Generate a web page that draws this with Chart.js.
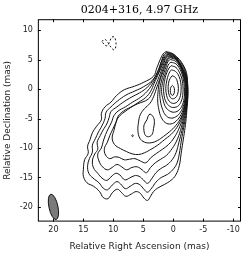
<!DOCTYPE html>
<html>
<head>
<meta charset="utf-8">
<script src="https://cdn.jsdelivr.net/npm/chart.js@4.4.0/dist/chart.umd.min.js"></script>
<style>
  html, body { margin: 0; padding: 0; background: #fff; }
  #wrap { width: 250px; height: 255px; }
</style>
</head>
<body>
<div id="wrap"><canvas id="map"></canvas></div>
<script>
// tick labels
const xTicks = [20, 15, 10, 5, 0, -5, -10];
const yTicks = [10, 5, 0, -5, -10, -15, -20];

// contours, [RA offset, Dec offset] in mas, outermost first
const jet1 = [[1.2,6.4],[0.2,6.1],[-0.8,5.3],[-1.6,4.2],[-2.2,2.8],[-2.4,1.0],[-2.45,-1.0],[-2.3,-3.0],[-2.15,-5.0],[-1.9,-7.0],[-1.6,-9.0],[-1.3,-11.0],[-1.0,-13.0],[-0.4,-14.6],[0.4,-15.5],[1.5,-16.2],[2.6,-16.8],[3.3,-17.4],[3.8,-18.2],[4.3,-18.9],[4.9,-18.5],[5.5,-17.7],[6.2,-17.4],[7.0,-17.8],[7.9,-18.2],[8.7,-17.5],[9.3,-17.0],[10.1,-17.5],[10.9,-18.6],[11.7,-18.4],[12.3,-17.4],[13.3,-16.5],[14.4,-15.9],[15.0,-14.8],[15.0,-13.6],[14.8,-12.0],[14.2,-10.9],[14.3,-9.7],[13.9,-8.6],[13.5,-7.4],[12.8,-6.3],[12.0,-5.2],[12.0,-4.1],[11.4,-3.0],[10.4,-2.2],[9.5,-1.1],[8.2,-0.1],[6.5,0.5],[4.9,1.2],[3.3,2.2],[2.75,3.6],[2.2,5.0],[1.7,6.0],[1.2,6.4]];
const jet2 = [[1.1,6.25],[0.1,5.95],[-0.8,5.1],[-1.6,4.0],[-2.1,2.7],[-2.35,1.0],[-2.4,-1.0],[-2.25,-3.0],[-2.0,-5.0],[-1.65,-7.0],[-1.3,-9.0],[-1.0,-11.0],[-0.6,-12.6],[0.1,-13.7],[1.0,-14.5],[2.0,-15.0],[2.9,-15.8],[3.6,-16.8],[4.3,-17.5],[4.9,-17.0],[5.5,-16.3],[6.3,-16.0],[7.2,-16.5],[8.0,-16.9],[8.8,-16.1],[9.4,-15.7],[10.2,-16.3],[11.0,-17.1],[11.7,-16.8],[12.4,-15.9],[13.4,-15.1],[14.1,-14.3],[14.3,-13.0],[14.0,-11.8],[13.5,-10.7],[13.5,-9.5],[13.0,-8.4],[12.5,-7.3],[11.9,-6.2],[11.4,-5.0],[11.2,-3.9],[10.4,-3.0],[9.3,-2.0],[7.9,-1.0],[6.4,-0.3],[5.0,0.4],[3.5,1.5],[2.5,3.2],[2.0,4.7],[1.6,5.8],[1.1,6.25]];
const jet3 = [[1.0,6.1],[0.0,5.8],[-0.8,4.9],[-1.55,3.8],[-2.05,2.6],[-2.3,1.0],[-2.35,-1.0],[-2.2,-3.0],[-1.85,-5.0],[-1.45,-7.0],[-0.95,-9.0],[-0.45,-10.8],[0.2,-12.0],[1.1,-12.9],[2.1,-13.5],[2.9,-14.2],[3.6,-15.2],[4.3,-16.0],[5.0,-15.4],[5.7,-14.8],[6.5,-14.7],[7.3,-15.1],[8.1,-15.4],[8.9,-14.6],[9.6,-14.3],[10.4,-14.9],[11.1,-15.5],[11.9,-15.1],[12.6,-14.3],[13.3,-13.4],[13.5,-12.2],[13.1,-11.0],[12.6,-10.2],[12.7,-9.0],[12.2,-7.9],[11.7,-6.9],[11.1,-5.9],[10.7,-4.8],[10.4,-3.8],[9.4,-3.0],[8.2,-2.1],[6.9,-1.3],[5.6,-0.6],[4.6,0.1],[3.5,1.3],[2.6,3.0],[2.0,4.6],[1.5,5.6],[1.0,6.1]];
const jet4 = [[0.9,5.95],[-0.1,5.65],[-0.9,4.7],[-1.5,3.6],[-2.0,2.5],[-2.25,1.0],[-2.3,-1.0],[-2.15,-3.0],[-1.7,-5.0],[-1.2,-7.0],[-0.55,-8.8],[0.2,-10.1],[1.1,-11.2],[2.1,-11.9],[3.0,-12.5],[3.8,-13.3],[4.5,-14.2],[5.2,-13.7],[6.0,-13.2],[6.9,-13.3],[7.8,-13.7],[8.6,-13.2],[9.4,-12.8],[10.2,-13.3],[11.0,-13.7],[11.8,-13.2],[12.4,-12.2],[12.6,-11.0],[12.0,-10.0],[11.7,-8.9],[11.3,-7.7],[10.8,-6.6],[10.3,-5.6],[9.9,-4.5],[9.2,-3.7],[8.0,-3.0],[6.8,-2.2],[5.5,-1.4],[4.4,-0.4],[3.6,0.7],[2.6,2.6],[1.9,4.4],[1.4,5.5],[0.9,5.95]];
const jet5 = [[0.8,5.8],[-0.2,5.5],[-0.95,4.6],[-1.5,3.5],[-1.95,2.4],[-2.2,1.0],[-2.25,-1.0],[-2.05,-3.0],[-1.55,-5.0],[-0.9,-6.8],[-0.1,-8.3],[0.8,-9.4],[1.8,-10.2],[2.8,-10.9],[3.7,-11.6],[4.6,-12.5],[5.5,-12.2],[6.4,-11.8],[7.3,-11.9],[8.2,-12.0],[9.0,-11.6],[9.8,-11.5],[10.6,-11.8],[11.3,-11.2],[11.5,-10.1],[11.0,-9.0],[10.6,-7.9],[10.1,-6.8],[9.6,-5.7],[9.1,-4.7],[8.2,-3.9],[7.1,-3.1],[5.9,-2.3],[4.6,-1.4],[3.8,-0.4],[3.2,1.0],[2.4,2.8],[1.7,4.5],[1.3,5.4],[0.8,5.8]];
const jet6 = [[0.7,5.65],[-0.25,5.35],[-1.0,4.45],[-1.5,3.4],[-1.9,2.3],[-2.15,1.0],[-2.2,-1.0],[-1.95,-3.0],[-1.4,-4.9],[-0.6,-6.5],[0.4,-7.7],[1.5,-8.6],[2.6,-9.5],[3.7,-10.2],[4.8,-10.8],[5.8,-11.1],[6.8,-11.0],[7.8,-10.6],[8.8,-10.1],[9.8,-9.4],[10.2,-8.3],[9.9,-7.0],[9.6,-5.8],[9.2,-4.6],[8.3,-3.7],[7.2,-3.1],[6.0,-2.5],[4.2,-1.7],[3.5,-0.6],[2.9,0.8],[2.2,2.6],[1.6,4.3],[1.2,5.3],[0.7,5.65]];
const jet7 = [[0.6,5.5],[-0.3,5.2],[-1.0,4.3],[-1.5,3.3],[-1.85,2.2],[-2.1,1.0],[-2.15,-1.0],[-1.9,-3.0],[-1.3,-4.8],[-0.4,-6.2],[0.6,-7.2],[1.6,-8.0],[2.6,-8.7],[3.7,-9.1],[4.8,-9.0],[5.6,-8.3],[5.9,-7.0],[5.8,-5.6],[5.5,-4.3],[4.8,-3.3],[3.9,-2.4],[3.3,-1.3],[2.85,0.0],[2.3,1.6],[1.85,3.0],[1.4,4.3],[1.0,5.2],[0.6,5.5]];
const core2 = [[0.5,5.35],[-0.4,5.0],[-1.05,4.1],[-1.5,3.1],[-1.8,2.1],[-2.05,1.0],[-2.1,-1.0],[-1.85,-2.8],[-1.3,-4.3],[-0.5,-5.4],[0.4,-5.9],[1.3,-5.7],[2.0,-4.8],[2.4,-3.5],[2.6,-2.0],[2.55,-0.5],[2.3,1.2],[1.7,3.0],[1.25,4.3],[0.9,5.1],[0.5,5.35]];
const core3 = [[0.45,5.05],[-0.45,4.7],[-1.1,3.8],[-1.5,2.9],[-1.75,2.0],[-1.95,1.0],[-2.0,-1.0],[-1.75,-2.6],[-1.2,-3.9],[-0.4,-4.7],[0.5,-4.9],[1.3,-4.4],[1.8,-3.4],[2.15,-2.0],[2.25,-0.5],[2.05,1.1],[1.55,2.8],[1.15,4.0],[0.85,4.8],[0.45,5.05]];
const core4 = [[0.4,4.6],[-0.45,4.3],[-1.05,3.5],[-1.45,2.6],[-1.7,1.6],[-1.85,0.3],[-1.85,-1.2],[-1.55,-2.6],[-1.0,-3.5],[-0.2,-3.9],[0.6,-3.7],[1.3,-3.0],[1.7,-1.8],[1.95,-0.4],[1.8,1.0],[1.4,2.5],[1.0,3.7],[0.75,4.3],[0.4,4.6]];
const core5 = [[0.35,4.0],[-0.45,3.7],[-1.0,2.9],[-1.4,1.9],[-1.6,0.6],[-1.6,-0.8],[-1.35,-2.0],[-0.85,-2.8],[-0.1,-3.1],[0.6,-2.9],[1.2,-2.2],[1.55,-1.0],[1.6,0.3],[1.4,1.7],[1.05,2.9],[0.7,3.6],[0.35,4.0]];
const core6 = [[0.3,3.3],[-0.4,3.0],[-0.95,2.2],[-1.25,1.1],[-1.3,-0.2],[-1.1,-1.4],[-0.6,-2.2],[0.1,-2.4],[0.7,-2.0],[1.1,-1.1],[1.25,0.1],[1.1,1.4],[0.8,2.5],[0.55,3.0],[0.3,3.3]];
const core7 = [[0.2,2.3],[-0.35,2.0],[-0.7,1.2],[-0.85,0.1],[-0.7,-0.9],[-0.3,-1.5],[0.25,-1.6],[0.65,-1.1],[0.85,-0.1],[0.8,1.0],[0.55,1.8],[0.2,2.3]];
const core8 = [[0.15,0.65],[-0.1,0.35],[-0.2,-0.2],[-0.1,-0.8],[0.15,-1.05],[0.4,-0.8],[0.5,-0.2],[0.4,0.35],[0.15,0.65]];
const blob = [[3.9,-4.2],[3.4,-4.6],[3.15,-5.5],[3.3,-6.7],[3.5,-7.6],[4.0,-8.05],[4.6,-7.9],[4.9,-7.0],[4.85,-6.0],[4.4,-5.2],[4.2,-4.6],[3.9,-4.2]];
const knot = [[6.8,-7.75],[6.65,-7.9],[6.8,-8.05],[6.95,-7.9],[6.8,-7.75]];
// negative contour (dashed)
const negative = [[11.9,8.1],[11.5,8.5],[11.1,8.2],[10.7,7.6],[10.3,7.0],[9.9,6.7],[9.6,7.2],[9.6,8.2],[9.9,8.9],[10.3,8.8],[10.6,8.1],[11.0,7.4],[11.4,7.5],[11.9,8.1]];

// restoring beam: centre, half axes (mas) and position angle (deg)
const beamCentre = [20.0, -20.0];
const beamMajor = 2.2;
const beamMinor = 0.75;
const beamPA = 12;

const positive = [jet1, jet2, jet3, jet4, jet5, jet6, jet7, core2, core3, core4, core5, core6, core7, core8, blob, knot];

function toPoints(arr) {
  return arr.map(p => ({ x: p[0], y: p[1] }));
}

var datasets = [];
positive.forEach(function (c) {
  datasets.push({
    data: toPoints(c),
    showLine: true,
    borderColor: '#111',
    borderWidth: 1,
    pointRadius: 0,
    tension: 0.4,
    fill: false
  });
});
datasets.push({
  data: toPoints(negative),
  showLine: true,
  borderColor: '#111',
  borderWidth: 1,
  borderDash: [2, 2],
  pointRadius: 0,
  tension: 0.4,
  fill: false
});

// frame, inward ticks on all four sides, and the beam
const framePlugin = {
  id: 'frame',
  afterDatasetsDraw(chart) {
    const ctx = chart.ctx;
    const a = chart.chartArea;
    const xs = chart.scales.x, ys = chart.scales.y;
    ctx.save();
    // beam
    const bx = xs.getPixelForValue(beamCentre[0]);
    const by = ys.getPixelForValue(beamCentre[1]);
    const ry = Math.abs(ys.getPixelForValue(beamMajor) - ys.getPixelForValue(0));
    const rx = Math.abs(xs.getPixelForValue(beamMinor) - xs.getPixelForValue(0));
    ctx.beginPath();
    ctx.ellipse(bx, by, rx, ry, -beamPA * Math.PI / 180, 0, Math.PI * 2);
    ctx.fillStyle = '#7a7a7a';
    ctx.fill();
    ctx.lineWidth = 1;
    ctx.strokeStyle = '#111';
    ctx.stroke();
    // frame
    ctx.strokeStyle = '#000';
    ctx.lineWidth = 1;
    ctx.strokeRect(a.left + 0.5, a.top + 0.5, a.right - a.left - 1, a.bottom - a.top - 1);
    // ticks
    ctx.beginPath();
    xTicks.forEach(function (v) {
      const px = Math.round(xs.getPixelForValue(v)) + 0.5;
      ctx.moveTo(px, a.bottom); ctx.lineTo(px, a.bottom - 3);
      ctx.moveTo(px, a.top); ctx.lineTo(px, a.top + 3);
    });
    yTicks.forEach(function (v) {
      const py = Math.round(ys.getPixelForValue(v)) + 0.5;
      ctx.moveTo(a.left, py); ctx.lineTo(a.left + 3, py);
      ctx.moveTo(a.right, py); ctx.lineTo(a.right - 3, py);
    });
    ctx.stroke();
    ctx.restore();
  }
};

new Chart(document.getElementById('map'), {
  type: 'scatter',
  data: { datasets: datasets },
  plugins: [framePlugin],
  options: {
    responsive: true,
    maintainAspectRatio: false,
    animation: false,
    layout: { padding: { left: 2, right: 9, top: 0, bottom: 3 } },
    plugins: {
      legend: { display: false },
      tooltip: { enabled: false },
      title: {
        display: true,
        fullSize: false,
        text: '0204+316, 4.97 GHz',
        color: '#000',
        font: { family: 'DejaVu Serif', size: 11, weight: 'normal' },
        padding: { top: 4, bottom: 2 }
      }
    },
    scales: {
      x: {
        type: 'linear',
        reverse: true,
        min: -11.3,
        max: 22.6,
        afterBuildTicks: function (scale) { scale.ticks = xTicks.map(v => ({ value: v })); },
        grid: { display: false, drawTicks: false },
        border: { display: false },
        ticks: { color: '#222', font: { family: 'DejaVu Sans', size: 8 }, padding: 4, maxRotation: 0 },
        title: { display: true, text: 'Relative Right Ascension (mas)', color: '#222', font: { family: 'DejaVu Sans', size: 9 }, padding: { top: 2, bottom: 0 } }
      },
      y: {
        type: 'linear',
        min: -22.5,
        max: 11.9,
        afterBuildTicks: function (scale) { scale.ticks = yTicks.map(v => ({ value: v })); },
        grid: { display: false, drawTicks: false },
        border: { display: false },
        ticks: { color: '#222', font: { family: 'DejaVu Sans', size: 8 }, padding: 5 },
        title: { display: true, text: 'Relative Declination (mas)', color: '#222', font: { family: 'DejaVu Sans', size: 9 }, padding: { top: 0, bottom: 2 } }
      }
    }
  }
});
</script>
</body>
</html>
